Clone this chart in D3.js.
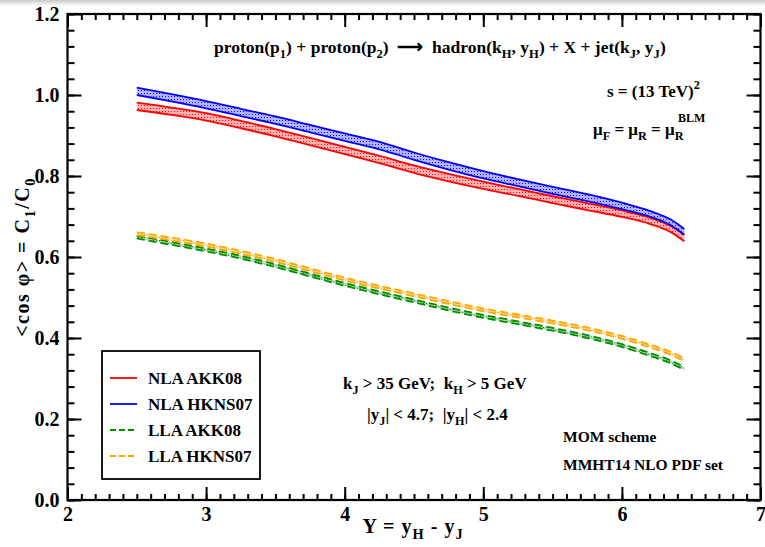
<!DOCTYPE html>
<html>
<head>
<meta charset="utf-8">
<title>cos phi vs Y</title>
<script src="https://cdn.jsdelivr.net/npm/d3@7"></script>
<style>
  body { margin: 0; background: #fff; }
  svg text { font-family: "Liberation Serif", "Times New Roman", serif; font-weight: bold; fill: #000; white-space: pre; }
  .axis path { display: none; }
  .axis line { stroke: #000; stroke-width: 2; }
</style>
</head>
<body>
<script>
// rapidity points
var Ys = [2.5, 2.75, 3, 3.25, 3.5, 3.75, 4, 4.25, 4.5, 4.75, 5, 5.25, 5.5, 5.75, 6, 6.2, 6.35, 6.45];

// band edges
var nlaHknsUp = [1.018, 1.002, 0.985, 0.966, 0.947, 0.926, 0.905, 0.884, 0.858, 0.834, 0.812, 0.792, 0.773, 0.755, 0.734, 0.714, 0.693, 0.669];
var nlaHknsLo = [1.000, 0.984, 0.967, 0.948, 0.929, 0.908, 0.887, 0.866, 0.840, 0.816, 0.794, 0.775, 0.756, 0.738, 0.718, 0.700, 0.679, 0.655];
var nlaAkkUp  = [0.981, 0.969, 0.955, 0.936, 0.916, 0.894, 0.872, 0.850, 0.826, 0.805, 0.786, 0.768, 0.750, 0.733, 0.715, 0.697, 0.677, 0.655];
var nlaAkkLo  = [0.963, 0.951, 0.937, 0.918, 0.898, 0.876, 0.854, 0.832, 0.808, 0.787, 0.768, 0.751, 0.733, 0.716, 0.699, 0.682, 0.662, 0.639];
var llaHknsUp = [0.661, 0.648, 0.633, 0.615, 0.595, 0.572, 0.549, 0.529, 0.510, 0.491, 0.473, 0.458, 0.443, 0.426, 0.405, 0.384, 0.366, 0.350];
var llaHknsLo = [0.654, 0.641, 0.626, 0.608, 0.588, 0.565, 0.542, 0.522, 0.503, 0.484, 0.466, 0.451, 0.436, 0.419, 0.398, 0.377, 0.359, 0.343];
var llaAkkUp  = [0.653, 0.637, 0.621, 0.603, 0.582, 0.559, 0.536, 0.515, 0.495, 0.475, 0.457, 0.441, 0.425, 0.407, 0.385, 0.363, 0.345, 0.328];
var llaAkkLo  = [0.646, 0.630, 0.614, 0.596, 0.575, 0.552, 0.529, 0.508, 0.488, 0.468, 0.450, 0.434, 0.418, 0.400, 0.378, 0.356, 0.338, 0.321];

var series = [
    {name: "NLA AKK08",  up: nlaAkkUp,  lo: nlaAkkLo,  color: "#ff0000", dash: null},
    {name: "NLA HKNS07", up: nlaHknsUp, lo: nlaHknsLo, color: "#0000ff", dash: null},
    {name: "LLA AKK08",  up: llaAkkUp,  lo: llaAkkLo,  color: "#008c00", dash: "8,4"},
    {name: "LLA HKNS07", up: llaHknsUp, lo: llaHknsLo, color: "#ffa500", dash: "8,4"}
];

var xMajor = [2, 3, 4, 5, 6, 7];
var yMajor = [0, 0.2, 0.4, 0.6, 0.8, 1.0, 1.2];

var width = 765, height = 547;
var pLeft = 67.5, pRight = 760.5, pTop = 14, pBottom = 500;

var x = d3.scaleLinear().domain([2, 7]).range([pLeft, pRight]);
var y = d3.scaleLinear().domain([0, 1.2]).range([pBottom, pTop]);

var svg = d3.select("body").append("svg")
    .attr("width", width)
    .attr("height", height);

var defs = svg.append("defs");

// grey strip at the very top of the shot
var grad = defs.append("linearGradient")
    .attr("id", "topfade").attr("x1", 0).attr("y1", 0).attr("x2", 0).attr("y2", 1);
grad.append("stop").attr("offset", "0%").attr("stop-color", "#c8c8c8");
grad.append("stop").attr("offset", "100%").attr("stop-color", "#ffffff");
svg.append("rect").attr("x", 0).attr("y", 0).attr("width", width).attr("height", 6)
    .attr("fill", "url(#topfade)");

// dotted fill patterns for the bands
series.forEach(function(s, i){
    var p = defs.append("pattern")
        .attr("id", "pat" + i)
        .attr("patternUnits", "userSpaceOnUse")
        .attr("width", 3).attr("height", 3);
    p.append("rect").attr("width", 3).attr("height", 3)
        .attr("fill", s.color).attr("fill-opacity", 0.3);
    p.append("rect").attr("width", 1).attr("height", 1)
        .attr("fill", s.color).attr("fill-opacity", 0.9);
});

// bands
var area = d3.area()
    .curve(d3.curveMonotoneX)
    .x(function(d){ return x(d.x); })
    .y0(function(d){ return y(d.lo); })
    .y1(function(d){ return y(d.up); });

var line = d3.line()
    .curve(d3.curveMonotoneX)
    .x(function(d){ return x(d.x); })
    .y(function(d){ return y(d.v); });

series.forEach(function(s, i){
    var pts = Ys.map(function(v, j){ return {x: v, up: s.up[j], lo: s.lo[j]}; });
    svg.append("path")
        .attr("d", area(pts))
        .attr("fill", "url(#pat" + i + ")");
    ["up", "lo"].forEach(function(k){
        svg.append("path")
            .attr("d", line(pts.map(function(d){ return {x: d.x, v: d[k]}; })))
            .attr("fill", "none")
            .attr("stroke", s.color)
            .attr("stroke-width", 1.8)
            .attr("stroke-dasharray", s.dash);
    });
});

// axes, ticks pointing inward on all four sides
var minorX = d3.range(20, 71).map(function(d){ return d / 10; });
var minorY = d3.range(0, 31).map(function(d){ return d * 0.04; });

function addAxis(ax, tr){
    return svg.append("g").attr("class", "axis").attr("transform", tr).call(ax);
}

addAxis(d3.axisBottom(x).tickValues(minorX).tickSize(-6).tickFormat(""), "translate(0," + pBottom + ")");
addAxis(d3.axisTop(x).tickValues(minorX).tickSize(-6).tickFormat(""), "translate(0," + pTop + ")");
addAxis(d3.axisLeft(y).tickValues(minorY).tickSize(-7).tickFormat(""), "translate(" + pLeft + ",0)");
addAxis(d3.axisRight(y).tickValues(minorY).tickSize(-7).tickFormat(""), "translate(" + pRight + ",0)");

addAxis(d3.axisBottom(x).tickValues(xMajor).tickSize(-13).tickPadding(7).tickFormat(d3.format("d")),
    "translate(0," + pBottom + ")");
addAxis(d3.axisTop(x).tickValues(xMajor).tickSize(-13).tickFormat(""), "translate(0," + pTop + ")");
addAxis(d3.axisLeft(y).tickValues(yMajor).tickSize(-14).tickPadding(8).tickFormat(d3.format(".1f")),
    "translate(" + pLeft + ",0)");
addAxis(d3.axisRight(y).tickValues(yMajor).tickSize(-14).tickFormat(""), "translate(" + pRight + ",0)");

svg.selectAll(".axis text").style("font-size", "20px").attr("fill", "#000");

// frame
svg.append("rect")
    .attr("x", pLeft).attr("y", pTop)
    .attr("width", pRight - pLeft).attr("height", pBottom - pTop)
    .attr("fill", "none").attr("stroke", "#000").attr("stroke-width", 2.2);

// text with sub/superscripts: parts = [[text, shift]], shift 0 normal, -1 sub, 1 sup
function rich(g, parts, size){
    var t = g.append("text").style("font-size", size + "px");
    var cur = 0;
    parts.forEach(function(p){
        var shift = p[1] || 0;
        var target = shift === -1 ? size * 0.3 : (shift === 1 ? -size * 0.45 : 0);
        t.append("tspan")
            .attr("dy", target - cur)
            .style("font-size", (shift ? size * 0.72 : size) + "px")
            .text(p[0]);
        cur = target;
    });
    return t;
}

// axis titles
rich(svg.append("g").attr("transform", "translate(413,533)"),
    [["Y = y", 0], ["H", -1], [" - y", 0], ["J", -1]], 20)
    .attr("text-anchor", "middle").style("letter-spacing", "1px");

rich(svg.append("g").attr("transform", "translate(29,257) rotate(-90)"),
    [["<cos \u03C6> = C", 0], ["1", -1], ["/C", 0], ["0", -1]], 20)
    .attr("text-anchor", "middle").style("letter-spacing", "1.5px");

// annotations
rich(svg.append("g").attr("transform", "translate(214,53)"),
    [["proton(p", 0], ["1", -1], [") + proton(p", 0], ["2", -1], [")  \u27F6  hadron(k", 0], ["H", -1],
     [", y", 0], ["H", -1], [") + X + jet(k", 0], ["J", -1], [", y", 0], ["J", -1], [")", 0]], 17.5);

rich(svg.append("g").attr("transform", "translate(607,97)"),
    [["s = (13 TeV)", 0], ["2", 1]], 17);

rich(svg.append("g").attr("transform", "translate(593,135)"),
    [["\u03BC", 0], ["F", -1], [" = \u03BC", 0], ["R", -1], [" = \u03BC", 0], ["R", -1]], 17);
svg.append("text").attr("x", 678).attr("y", 122).style("font-size", "12px").text("BLM");

rich(svg.append("g").attr("transform", "translate(343,389)"),
    [["k", 0], ["J", -1], [" > 35 GeV;  k", 0], ["H", -1], [" > 5 GeV", 0]], 17);
rich(svg.append("g").attr("transform", "translate(367,420)"),
    [["|y", 0], ["J", -1], ["| < 4.7;  |y", 0], ["H", -1], ["| < 2.4", 0]], 17);

svg.append("text").attr("x", 563).attr("y", 442).style("font-size", "15.5px").text("MOM scheme");
svg.append("text").attr("x", 563).attr("y", 470).style("font-size", "15.5px").text("MMHT14 NLO PDF set");

// legend
var lg = svg.append("g");
lg.append("rect")
    .attr("x", 102).attr("y", 351).attr("width", 158).attr("height", 128)
    .attr("fill", "#fff").attr("stroke", "#000").attr("stroke-width", 1.8);
series.forEach(function(s, i){
    var yy = 384 + i * 26;
    lg.append("line")
        .attr("x1", 110).attr("x2", 137).attr("y1", yy - 6).attr("y2", yy - 6)
        .attr("stroke", s.color).attr("stroke-width", 1.8)
        .attr("stroke-dasharray", s.dash ? "6,3" : null);
    lg.append("text").attr("x", 148).attr("y", yy).style("font-size", "17px").text(s.name);
});
</script>
</body>
</html>
